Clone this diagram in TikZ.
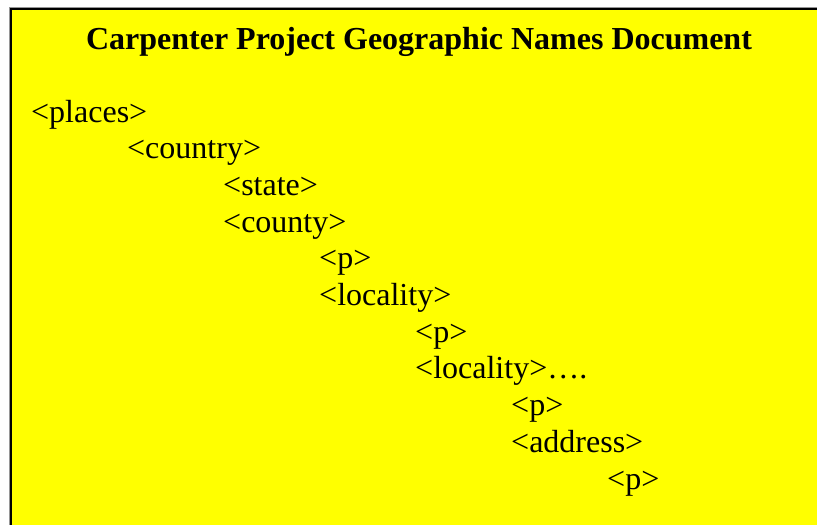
\documentclass[tikz,border=0pt]{standalone}
\usepackage{fontspec}
\setmainfont{Liberation Serif}
\definecolor{boxyellow}{RGB}{255,255,0}
\definecolor{edgegray}{RGB}{150,150,150}
\tikzset{
  tag/.style={anchor=base west, inner sep=0pt, font=\fontsize{32}{36.8}\selectfont, text=black},
  titletext/.style={anchor=base, inner sep=0pt, font=\fontsize{32}{36.8}\selectfont\bfseries, text=black},
}
\begin{document}
\begin{tikzpicture}[x=1pt,y=-1pt]
\useasboundingbox (0,0) rectangle (817,525);
\clip (0,0) rectangle (817,525);
\fill[white] (0,0) rectangle (817,525);
\fill[boxyellow] (11,9) rectangle (830,540);
\draw[edgegray, line width=1pt] (9.5,540) -- (9.5,7.5) -- (830,7.5);
\draw[black, line width=2pt] (11,540) -- (11,9) -- (830,9);
\node[titletext] (title) at (419,49) {Carpenter Project Geographic Names Document};
\node[tag] (places)  at (31,122)    {<places>};
\node[tag] (country) at (127,158.7) {<country>};
\node[tag] (state)   at (223,195.4) {<state>};
\node[tag] (county)  at (223,232.1) {<county>};
\node[tag] (pa)      at (319,268.8) {<p>};
\node[tag] (loca)    at (319,305.5) {<locality>};
\node[tag] (pb)      at (415,342.2) {<p>};
\node[tag] (locb)    at (415,378.9) {<locality>….};
\node[tag] (pc)      at (511,415.6) {<p>};
\node[tag] (addr)    at (511,452.3) {<address>};
\node[tag] (pd)      at (607,489)   {<p>};
\end{tikzpicture}
\end{document}
